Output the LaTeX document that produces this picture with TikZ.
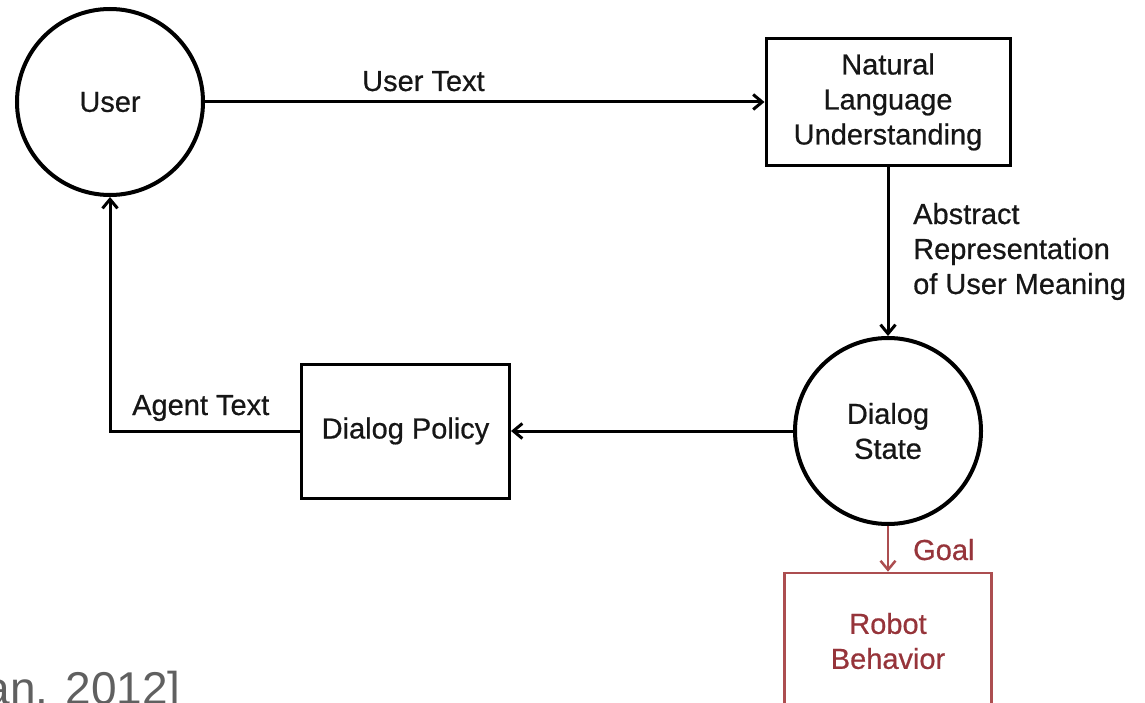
\documentclass[tikz,border=0pt]{standalone}
\usepackage{fontspec}
\setmainfont{Liberation Sans}
\newfontfamily\inkfont{Liberation Sans}[FakeBold=0.6]
\usetikzlibrary{arrows.meta}
\definecolor{ink}{RGB}{22,22,22}
\definecolor{brick}{RGB}{150,52,58}
\definecolor{brickline}{RGB}{172,78,80}
\definecolor{citegray}{RGB}{96,96,96}
\begin{document}
\begin{tikzpicture}[x=1pt,y=-1pt,
  every node/.style={font=\inkfont\fontsize{29}{35}\selectfont, text=ink},
  stateball/.style={circle, draw=black, line width=4pt, minimum size=186pt,
    inner sep=0pt, align=center},
  procbox/.style={rectangle, draw=black, line width=3pt, inner sep=0pt, align=center},
  flow/.style={draw=black, line width=3pt, -{Straight Barb[length=9pt,width=15pt]}},
  goalflow/.style={draw=brickline, line width=2.5pt, -{Straight Barb[length=9pt,width=15pt]}},
  flowlabel/.style={inner sep=0pt, anchor=base west, align=left},
]
\useasboundingbox (0,0) rectangle (1145,703);

% main dialog loop
\node[stateball] (user) at (110,102) {User};
\node[procbox, minimum width=244pt, minimum height=127pt] (nlu) at (888,102)
  {Natural\\Language\\Understanding};
\node[stateball] (ds) at (888,431) {Dialog\\State};
\node[procbox, minimum width=208pt, minimum height=134pt] (dp) at (405.5,431)
  {Dialog Policy};
\node[rectangle, draw=brickline, line width=2.6pt, minimum width=207pt,
  minimum height=136pt, inner sep=0pt, align=center, text=brick] (rb) at (888,641)
  {Robot\\Behavior};

% connectors
\draw[flow] (user.east) -- (nlu.west);
\draw[flow] (nlu.south) -- (ds.north);
\draw[flow] (ds.west) -- (dp.east);
\draw[flow] (dp.west) -| (user.south);
\draw[goalflow] (ds.south) -- (rb.north);

% connector labels (base anchor sits on the last line)
\node[flowlabel] (lutext) at (362,91) {User Text};
\node[flowlabel] (labs) at (913,294) {Abstract\\Representation\\of User Meaning};
\node[flowlabel] (latext) at (132,415) {Agent Text};
\node[flowlabel, text=brick] (lgoal) at (913,560) {Goal};

% citation fragment at the lower edge
\node[anchor=base east, inner sep=0pt, text=citegray,
  font=\fontsize{46}{50}\selectfont] (cite) at (181,704) {an. 2012]};
\end{tikzpicture}
\end{document}
